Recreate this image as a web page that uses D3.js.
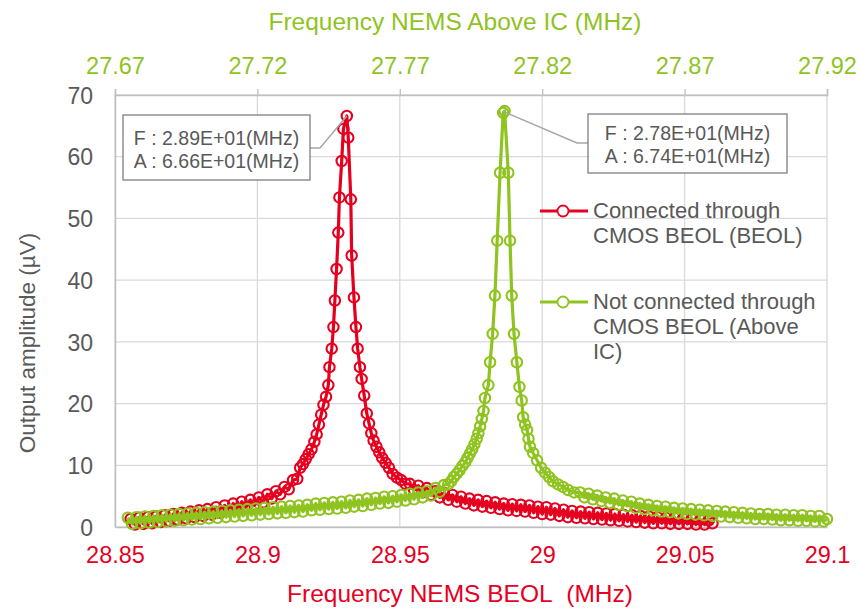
<!DOCTYPE html>
<html>
<head>
<meta charset="utf-8">
<title>NEMS resonance</title>
<style>
  body { margin: 0; background: #fff; }
  svg { display: block; font-family: "Liberation Sans", Arial, sans-serif; }
</style>
</head>
<body>
<div id="chart"></div>
<script src="https://cdn.jsdelivr.net/npm/d3@7"></script>
<script>
// ---- data ----
const bottomTicks = [28.85, 28.9, 28.95, 29, 29.05, 29.1];
const topTicks = [27.67, 27.72, 27.77, 27.82, 27.87, 27.92];
const yTicks = [0, 10, 20, 30, 40, 50, 60, 70];

// Connected through CMOS BEOL (BEOL) -- bottom axis
const redFreq = [
  28.8555, 28.8570, 28.8585, 28.8600, 28.8615, 28.8630, 28.8645, 28.8660, 28.8675, 28.8690,
  28.8705, 28.8720, 28.8735, 28.8750, 28.8765, 28.8780, 28.8795, 28.8810, 28.8825, 28.8840,
  28.8855, 28.8870, 28.8885, 28.8900, 28.8915, 28.8930, 28.8945, 28.8960, 28.8975, 28.8990,
  28.9005, 28.9020, 28.9035, 28.9050, 28.9065, 28.9080, 28.9095, 28.9110, 28.9125, 28.9140,
  28.9150, 28.9160, 28.9170, 28.9180, 28.9190, 28.9200, 28.9208, 28.9216, 28.9224, 28.9232,
  28.9241, 28.9249, 28.9253, 28.9261, 28.9267, 28.9272, 28.9278, 28.9284, 28.9288, 28.9296,
  28.9302, 28.9314, 28.9319, 28.9328, 28.9331, 28.9339, 28.9346, 28.9352, 28.9360, 28.9366,
  28.9375, 28.9384, 28.9392, 28.9400, 28.9408, 28.9418, 28.9428, 28.9438, 28.9450, 28.9462,
  28.9475, 28.9490, 28.9505, 28.9520, 28.9535, 28.9550, 28.9565, 28.9580, 28.9595, 28.9610,
  28.9625, 28.9640, 28.9655, 28.9670, 28.9685, 28.9700, 28.9715, 28.9730, 28.9745, 28.9760,
  28.9775, 28.9790, 28.9805, 28.9820, 28.9835, 28.9850, 28.9865, 28.9880, 28.9895, 28.9910,
  28.9925, 28.9940, 28.9955, 28.9970, 28.9985, 29.0000, 29.0015, 29.0030, 29.0045, 29.0060,
  29.0075, 29.0090, 29.0105, 29.0120, 29.0135, 29.0150, 29.0165, 29.0180, 29.0195, 29.0210,
  29.0225, 29.0240, 29.0255, 29.0270, 29.0285, 29.0300, 29.0315, 29.0330, 29.0345, 29.0360,
  29.0375, 29.0390, 29.0405, 29.0420, 29.0435, 29.0450, 29.0465, 29.0480, 29.0495, 29.0510,
  29.0525, 29.0540, 29.0555, 29.0570, 29.0585, 29.0598
];
const redAmp = [
  1.3, 0.4, 1.5, 0.5, 1.6, 0.6, 1.7, 0.8, 1.9, 1.0,
  2.1, 1.2, 2.3, 1.4, 2.5, 1.6, 2.7, 1.8, 2.9, 2.0,
  3.2, 2.3, 3.5, 2.6, 3.8, 2.9, 4.1, 3.2, 4.4, 3.5,
  4.8, 4.0, 5.3, 4.6, 5.8, 5.3, 6.5, 6.1, 7.6, 7.8,
  9.6, 10.2, 11.0, 11.8, 12.6, 13.8, 15.0, 16.6, 18.2, 19.8,
  21.1, 23.0, 25.9, 28.9, 32.4, 36.7, 41.8, 47.7, 53.4, 59.3,
  64.5, 66.6, 63.1, 53.1, 44.0, 37.2, 32.4, 28.9, 25.9, 24.0,
  21.3, 18.4, 16.8, 15.2, 14.0, 13.0, 12.1, 11.2, 10.4, 9.6,
  8.6, 8.0, 7.6, 7.0, 7.0, 6.0, 6.7, 5.6, 6.3, 5.2,
  5.8, 4.8, 5.5, 4.4, 5.2, 4.1, 4.9, 3.8, 4.6, 3.5,
  4.4, 3.3, 4.2, 3.1, 4.0, 2.9, 3.8, 2.7, 3.7, 2.6,
  3.6, 2.5, 3.5, 2.3, 3.3, 2.1, 3.2, 2.0, 3.0, 1.8,
  2.8, 1.6, 2.6, 1.5, 2.5, 1.4, 2.4, 1.3, 2.3, 1.2,
  2.2, 1.1, 2.1, 1.0, 2.0, 0.9, 1.9, 0.8, 1.8, 0.7,
  1.7, 0.6, 1.6, 0.6, 1.5, 0.5, 1.5, 0.5, 1.4, 0.5,
  1.3, 0.4, 1.2, 0.4, 1.1, 0.6
];

// Not connected through CMOS BEOL (Above IC) -- top axis
const greenFreq = [
  27.6745, 27.6760, 27.6775, 27.6790, 27.6805, 27.6820, 27.6835, 27.6850, 27.6865, 27.6880,
  27.6895, 27.6910, 27.6925, 27.6940, 27.6955, 27.6970, 27.6985, 27.7000, 27.7015, 27.7030,
  27.7045, 27.7060, 27.7075, 27.7090, 27.7105, 27.7120, 27.7135, 27.7150, 27.7165, 27.7180,
  27.7195, 27.7210, 27.7225, 27.7240, 27.7255, 27.7270, 27.7285, 27.7300, 27.7315, 27.7330,
  27.7345, 27.7360, 27.7375, 27.7390, 27.7405, 27.7420, 27.7435, 27.7450, 27.7465, 27.7480,
  27.7495, 27.7510, 27.7525, 27.7540, 27.7555, 27.7570, 27.7585, 27.7600, 27.7615, 27.7630,
  27.7645, 27.7660, 27.7675, 27.7690, 27.7705, 27.7720, 27.7735, 27.7750, 27.7765, 27.7780,
  27.7795, 27.7810, 27.7825, 27.7840, 27.7855, 27.7870, 27.7880, 27.7890, 27.7900, 27.7910,
  27.7920, 27.7930, 27.7938, 27.7946, 27.7954, 27.7962, 27.7970, 27.7976, 27.7982, 27.7988,
  27.7994, 27.7999, 27.8011, 27.8017, 27.8026, 27.8034, 27.8042, 27.8052, 27.8063, 27.8068,
  27.8081, 27.8087, 27.8093, 27.8101, 27.8111, 27.8120, 27.8128, 27.8133, 27.8140, 27.8147,
  27.8152, 27.8157, 27.8168, 27.8182, 27.8196, 27.8210, 27.8224, 27.8238, 27.8256, 27.8273,
  27.8291, 27.8312, 27.8333, 27.8348, 27.8363, 27.8378, 27.8393, 27.8408, 27.8423, 27.8438,
  27.8453, 27.8468, 27.8483, 27.8498, 27.8513, 27.8528, 27.8543, 27.8558, 27.8573, 27.8588,
  27.8603, 27.8618, 27.8633, 27.8648, 27.8663, 27.8678, 27.8693, 27.8708, 27.8723, 27.8738,
  27.8753, 27.8768, 27.8783, 27.8798, 27.8813, 27.8828, 27.8843, 27.8858, 27.8873, 27.8888,
  27.8903, 27.8918, 27.8933, 27.8948, 27.8963, 27.8978, 27.8993, 27.9008, 27.9023, 27.9038,
  27.9053, 27.9068, 27.9083, 27.9098, 27.9113, 27.9128, 27.9143, 27.9158, 27.9173, 27.9188,
  27.9200
];
const greenAmp = [
  1.5, 0.5, 1.6, 0.6, 1.7, 0.7, 1.8, 0.8, 1.9, 0.9,
  2.0, 1.0, 2.1, 1.1, 2.2, 1.2, 2.3, 1.3, 2.4, 1.4,
  2.5, 1.5, 2.6, 1.6, 2.7, 1.7, 2.8, 1.8, 2.9, 1.9,
  3.0, 2.0, 3.1, 2.1, 3.2, 2.2, 3.3, 2.3, 3.4, 2.4,
  3.5, 2.5, 3.6, 2.7, 3.8, 2.8, 3.9, 2.9, 4.0, 3.0,
  4.1, 3.1, 4.3, 3.3, 4.4, 3.4, 4.6, 3.6, 4.7, 3.8,
  4.9, 3.9, 5.0, 4.1, 5.2, 4.3, 5.4, 4.5, 5.6, 4.8,
  5.8, 5.1, 6.3, 5.7, 6.8, 6.9, 7.4, 8.1, 8.6, 9.2,
  9.9, 10.5, 11.2, 11.9, 12.6, 13.4, 14.3, 15.2, 16.3, 17.5,
  18.8, 20.9, 23.0, 26.7, 31.3, 37.5, 46.4, 57.4, 67.1, 67.4,
  57.4, 46.4, 37.5, 31.3, 26.7, 22.7, 20.5, 17.8, 16.6, 15.7,
  14.3, 13.0, 12.0, 10.8, 9.6, 8.8, 8.1, 7.4, 6.9, 6.5,
  6.0, 5.6, 5.6, 4.8, 5.4, 4.5, 5.1, 4.2, 4.8, 3.9,
  4.6, 3.6, 4.3, 3.4, 4.1, 3.1, 3.8, 2.9, 3.6, 2.7,
  3.4, 2.5, 3.3, 2.4, 3.1, 2.2, 3.0, 2.1, 2.9, 2.0,
  2.8, 1.9, 2.7, 1.8, 2.6, 1.7, 2.5, 1.6, 2.4, 1.5,
  2.3, 1.4, 2.2, 1.3, 2.1, 1.3, 2.1, 1.2, 2.0, 1.1,
  2.0, 1.1, 1.9, 1.0, 1.9, 1.0, 1.8, 0.9, 1.8, 0.9,
  1.3
];

const redColor = '#e6001f';
const greenColor = '#8fc31f';
const textGray = '#595959';
const gridGray = '#d9d9d9';

const W = 859, H = 608;
const plotL = 115, plotR = 827, plotT = 95, plotB = 527;

const xBot = d3.scaleLinear().domain([28.85, 29.1]).range([plotL, plotR]);
const xTop = d3.scaleLinear().domain([27.67, 27.92]).range([plotL, plotR]);
const y = d3.scaleLinear().domain([0, 70]).range([plotB, plotT]);

const svg = d3.select('#chart').append('svg')
  .attr('width', W).attr('height', H);

// grid
svg.append('g').selectAll('line').data(yTicks).join('line')
  .attr('x1', plotL).attr('x2', plotR)
  .attr('y1', d => y(d)).attr('y2', d => y(d))
  .attr('stroke', gridGray).attr('stroke-width', 1.3);
svg.append('g').selectAll('line').data(bottomTicks).join('line')
  .attr('x1', d => xBot(d)).attr('x2', d => xBot(d))
  .attr('y1', plotT).attr('y2', plotB)
  .attr('stroke', gridGray).attr('stroke-width', 1.3);

// axes
const gB = svg.append('g').attr('transform', `translate(0,${plotB})`)
  .call(d3.axisBottom(xBot).tickValues(bottomTicks).tickSize(0).tickFormat(d => String(d)));
gB.selectAll('text').attr('y', 36).attr('dy', 0)
  .attr('fill', redColor).style('font-size', '23.5px');

const gT = svg.append('g').attr('transform', `translate(0,${plotT})`)
  .call(d3.axisTop(xTop).tickValues(topTicks).tickSize(6).tickFormat(d => d.toFixed(2)));
gT.selectAll('text').attr('y', -21).attr('dy', 0)
  .attr('fill', greenColor).style('font-size', '23.5px');

const gL = svg.append('g').attr('transform', `translate(${plotL},0)`)
  .call(d3.axisLeft(y).tickValues(yTicks).tickSize(0).tickPadding(22));
gL.selectAll('text').attr('dy', '0.36em')
  .attr('fill', textGray).style('font-size', '23px');

[gB, gT, gL].forEach(g => {
  g.attr('font-family', null).attr('font-size', null);
  g.select('.domain').attr('stroke', '#bfbfbf').attr('stroke-width', 1.5);
  g.selectAll('.tick line').attr('stroke', '#bfbfbf').attr('stroke-width', 1.3);
});

// axis titles
svg.append('text').attr('x', 455).attr('y', 30).attr('text-anchor', 'middle')
  .attr('fill', greenColor).style('font-size', '24.5px')
  .text('Frequency NEMS Above IC (MHz)');
svg.append('text').attr('x', 460).attr('y', 602).attr('text-anchor', 'middle')
  .attr('fill', redColor).style('font-size', '24.5px')
  .text('Frequency NEMS BEOL\u00a0 (MHz)');
svg.append('text').attr('transform', 'translate(35,343) rotate(-90)')
  .attr('text-anchor', 'middle')
  .attr('fill', textGray).style('font-size', '22.5px')
  .text('Output amplitude (\u00b5V)');

// series
function drawSeries(freq, amp, xs, color) {
  const pts = freq.map((f, i) => [f, amp[i]]);
  const g = svg.append('g');
  g.append('path').datum(pts)
    .attr('fill', 'none').attr('stroke', color).attr('stroke-width', 3.2)
    .attr('stroke-linejoin', 'round')
    .attr('d', d3.line().x(d => xs(d[0])).y(d => y(d[1])));
  g.selectAll('circle').data(pts).join('circle')
    .attr('cx', d => xs(d[0])).attr('cy', d => y(d[1]))
    .attr('r', 5.2)
    .attr('fill', 'none').attr('stroke', color).attr('stroke-width', 2.1);
}
drawSeries(redFreq, redAmp, xBot, redColor);
drawSeries(greenFreq, greenAmp, xTop, greenColor);

// callouts
function callout(bx, by, bw, bh, base, lines, path) {
  svg.append('path').attr('d', path).attr('fill', 'none')
    .attr('stroke', '#a6a6a6').attr('stroke-width', 1.5);
  svg.append('rect').attr('x', bx).attr('y', by).attr('width', bw).attr('height', bh)
    .attr('fill', '#fff').attr('stroke', '#7f7f7f').attr('stroke-width', 1.3);
  lines.forEach((t, i) => {
    svg.append('text').attr('x', bx + bw / 2).attr('y', by + base + i * 23)
      .attr('text-anchor', 'middle').attr('fill', textGray)
      .style('font-size', '19.5px').text(t);
  });
}
const redPeak = [xBot(28.9314), y(66.6)];
const greenPeak = [xTop(27.8065), y(67.3)];
callout(123, 115, 187, 65, 30, ['F : 2.89E+01(MHz)', 'A : 6.66E+01(MHz)'],
  `M310,148 L320,148 L${redPeak[0]},${redPeak[1]}`);
callout(588, 114, 199, 59, 26, ['F : 2.78E+01(MHz)', 'A : 6.74E+01(MHz)'],
  `M588,143 L577,143 L${greenPeak[0]},${greenPeak[1]}`);

// legend
const legend = [
  { color: redColor, y: 211, lines: ['Connected through', 'CMOS BEOL (BEOL)'] },
  { color: greenColor, y: 302, lines: ['Not connected through', 'CMOS BEOL (Above', 'IC)'] }
];
legend.forEach(l => {
  svg.append('line').attr('x1', 540).attr('x2', 588).attr('y1', l.y).attr('y2', l.y)
    .attr('stroke', l.color).attr('stroke-width', 3.2);
  svg.append('circle').attr('cx', 563).attr('cy', l.y).attr('r', 5.5)
    .attr('fill', '#fff').attr('stroke', l.color).attr('stroke-width', 1.8);
  l.lines.forEach((t, i) => {
    svg.append('text').attr('x', 593).attr('y', l.y + 7 + i * 25)
      .attr('fill', textGray).style('font-size', '22px').text(t);
  });
});
</script>
</body>
</html>
